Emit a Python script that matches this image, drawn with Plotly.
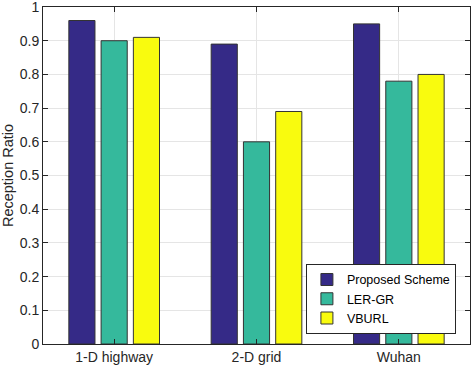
import plotly.graph_objects as go

categories = ["1-D highway", "2-D grid", "Wuhan"]
series_names = ["Proposed Scheme", "LER-GR", "VBURL"]
proposed = [0.96, 0.89, 0.95]
ler_gr = [0.90, 0.60, 0.78]
vburl = [0.91, 0.69, 0.80]
y_ticks = [0, 0.1, 0.2, 0.3, 0.4, 0.5, 0.6, 0.7, 0.8, 0.9, 1]
y_tick_labels = ["0", "0.1", "0.2", "0.3", "0.4", "0.5", "0.6", "0.7", "0.8", "0.9", "1"]

colors = ["#352A87", "#35B99C", "#F9FB0E"]
values = [proposed, ler_gr, vburl]

fig = go.Figure()
for name, vals, c in zip(series_names, values, colors):
    fig.add_trace(go.Bar(
        x=categories, y=vals, name=name,
        marker=dict(color=c, line=dict(color="#333333", width=1)),
    ))

fig.update_layout(
    width=474, height=368,
    margin=dict(l=43, r=4, t=7, b=24, autoexpand=False),
    paper_bgcolor="white", plot_bgcolor="white",
    barmode="group", bargap=0.32, bargroupgap=0.19,
    font=dict(family="Liberation Sans, Arial, sans-serif", size=14, color="#262626"),
    showlegend=True,
    legend=dict(
        x=0.967, y=0.03, xanchor="right", yanchor="bottom",
        bgcolor="white", bordercolor="#262626", borderwidth=1,
        font=dict(size=12.5, color="#000000"),
        tracegroupgap=0, itemwidth=30,
    ),
    xaxis=dict(
        showline=True, linecolor="#262626", mirror="ticks",
        ticks="inside", ticklen=5, tickcolor="#262626",
        showgrid=True, gridcolor="#E5E5E5",
        tickfont=dict(size=14), automargin=False,
    ),
    yaxis=dict(
        range=[0, 1.0001], tickvals=y_ticks, ticktext=y_tick_labels,
        showline=True, linecolor="#262626", mirror="ticks",
        ticks="inside", ticklen=5, tickcolor="#262626",
        showgrid=True, gridcolor="#E5E5E5",
        zeroline=False, automargin=False, ticklabeloverflow="allow",
        tickfont=dict(size=14),
        title=dict(text="Reception Ratio", font=dict(size=14.5), standoff=6),
    ),
)

fig.write_html("out.html", config={"displayModeBar": False},
               post_script="document.body.style.margin='0';")
